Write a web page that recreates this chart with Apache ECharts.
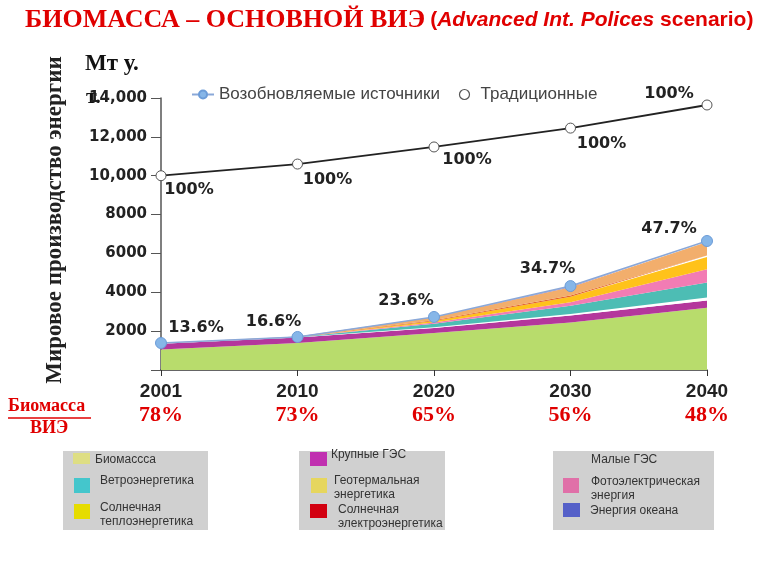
<!DOCTYPE html>
<html><head><meta charset="utf-8">
<script src="https://cdn.jsdelivr.net/npm/echarts@6/dist/echarts.min.js"></script>
<style>html,body{margin:0;padding:0;background:#fff}#c{width:768px;height:576px}</style>
</head><body><div id="c"></div>
<script>
const years = ['2001','2010','2020','2030','2040'];
const biomassShare = ['78%','73%','65%','56%','48%'];
const traditional = [10000, 10600, 11480, 12450, 13640];
const traditionalPct = ['100%','100%','100%','100%','100%'];
const renewable = [1390, 1700, 2730, 4320, 6640];
const renewablePct = ['13.6%','16.6%','23.6%','34.7%','47.7%'];
const biomass = [1060, 1390, 1900, 2450, 3200];
const largeHydro = [290, 280, 260, 350, 380];
const smallHydro = [10, 10, 40, 80, 150];
const wind = [10, 15, 180, 430, 780];
const photovoltaic = [2, 3, 60, 180, 680];
const solarThermal = [5, 5, 80, 280, 620];
const solarElectric = [2, 3, 40, 70, 80];
const geothermal = [8, 10, 150, 420, 700];
const ocean = [3, 4, 20, 40, 50];

const chart = echarts.init(document.getElementById('c'));
const trOffsets = [[28,-4],[30,-3],[33,-6],[31,-3],[-38,7]];
const trPos = ['bottom','bottom','bottom','bottom','top'];
const reOffsets = [[35,4],[-24,4],[-28,3],[-23,2],[-38,7]];

function area(name, data, color) {
  return { name, type:'line', stack:'r', data, symbol:'none', showSymbol:false,
    lineStyle:{width:0}, areaStyle:{color, opacity:1}, itemStyle:{color}, silent:true, z:1 };
}
const pctLabelStyle = {fontFamily:'DejaVu Sans', fontWeight:'bold', fontSize:16, color:'#222'};

chart.setOption({
  animation:false,
  backgroundColor:'#fff',
  title:{
    left:20, top:2,
    text:'{a|БИОМАССА – ОСНОВНОЙ ВИЭ} {b|(}{c|Advanced Int. Polices}{b| scenario)}',
    textStyle:{rich:{
      a:{fontFamily:'Liberation Serif', fontWeight:'bold', fontSize:26, color:'#e00000'},
      b:{fontFamily:'Liberation Sans', fontWeight:'bold', fontSize:21, color:'#e00000'},
      c:{fontFamily:'Liberation Sans', fontWeight:'bold', fontStyle:'italic', fontSize:21, color:'#e00000'}
    }}
  },
  legend:{
    data:['Возобновляемые источники', {name:'Традиционные', icon:'circle', itemStyle:{color:'#ffffff', borderColor:'#555555', borderWidth:1.2}}],
    left:186, top:81, itemGap:19, itemWidth:22, itemHeight:10,
    textStyle:{fontFamily:'Liberation Sans', fontSize:17, color:'#444'}
  },
  grid:{left:161, right:61, top:98, bottom:206},
  xAxis:{
    type:'category', data:years, boundaryGap:false,
    axisLine:{lineStyle:{color:'#333', width:1.5}},
    axisTick:{alignWithLabel:true, length:6, lineStyle:{color:'#333'}},
    axisLabel:{
      margin:11,
      formatter:(v,i)=>'{y|'+v+'}\n{p|'+biomassShare[i]+'}',
      rich:{
        y:{fontFamily:'Liberation Sans', fontWeight:'bold', fontSize:19, color:'#222', lineHeight:22},
        p:{fontFamily:'Liberation Serif', fontWeight:'bold', fontSize:22, color:'#e00000', lineHeight:24}
      }
    }
  },
  yAxis:{
    type:'value', min:0, max:14000, interval:2000,
    splitLine:{show:false},
    axisLine:{show:true, lineStyle:{color:'#555', width:1.5}},
    axisTick:{show:true, length:10, lineStyle:{color:'#555'}},
    axisLabel:{
      margin:14, fontFamily:'DejaVu Sans', fontWeight:'bold', fontSize:15, color:'#222',
      formatter:v=> v===0 ? '' : (v>=10000 ? v.toLocaleString('en-US') : String(v))
    }
  },
  series:[
    area('Биомасса', biomass, '#b8dc6c'),
    area('Крупные ГЭС', largeHydro, '#b4379c'),
    area('Малые ГЭС', smallHydro, '#ffffff'),
    area('Ветроэнергетика', wind, '#4dbdb4'),
    area('Фотоэлектрическая энергия', photovoltaic, '#f27cb4'),
    area('Солнечная теплоэнергетика', solarThermal, '#ffc21a'),
    area('Солнечная электроэнергетика', solarElectric, '#e2622a'),
    area('Геотермальная энергетика', geothermal, '#f2ae6c'),
    area('Энергия океана', ocean, '#9a86c8'),
    { name:'Возобновляемые источники', type:'line', z:5,
      data: renewable.map((v,i)=>({value:v, label:{offset:reOffsets[i]}})),
      symbol:'circle', symbolSize:11,
      lineStyle:{color:'#8aa8d8', width:1.5},
      itemStyle:{color:'#86b6e8', borderColor:'#6c9cd8', borderWidth:1},
      label:{show:true, position:'top', formatter:p=>renewablePct[p.dataIndex], ...pctLabelStyle}
    },
    { name:'Традиционные', type:'line', z:5,
      data: traditional.map((v,i)=>({value:v, label:{position:trPos[i], offset:trOffsets[i]}})),
      symbol:'circle', symbolSize:10,
      lineStyle:{color:'#222', width:1.8},
      itemStyle:{color:'#fff', borderColor:'#555', borderWidth:1},
      label:{show:true, formatter:p=>traditionalPct[p.dataIndex], ...pctLabelStyle}
    }
  ],
  graphic:[
    {type:'text', left:85, top:53, style:{text:'Мт у.', font:'bold 23px "Liberation Serif"', fill:'#111'}},
    {type:'text', left:86, top:86, style:{text:'т.', font:'bold 22px "Liberation Serif"', fill:'#111'}},
    {type:'text', x:55, y:220, rotation:Math.PI/2, style:{text:'Мировое производство энергии', font:'bold 23px "Liberation Serif"', fill:'#222', align:'center', verticalAlign:'middle'}},
    {type:'text', left:8, top:397, style:{text:'Биомасса', font:'bold 18px "Liberation Serif"', fill:'#e00000'}},
    {type:'line', shape:{x1:8, y1:418, x2:91, y2:418}, style:{stroke:'#e00000', lineWidth:1.5}},
    {type:'text', left:30, top:419, style:{text:'ВИЭ', font:'bold 18px "Liberation Serif"', fill:'#e00000'}},
    {type:'rect', shape:{x:63, y:451, width:145, height:79}, style:{fill:'#d0d0d0'}},
    {type:'rect', shape:{x:73, y:453, width:17, height:11}, style:{fill:'#dede84'}},
    {type:'text', left:95, top:454, style:{text:'Биомассса', font:'12px "Liberation Sans"', fill:'#333'}},
    {type:'rect', shape:{x:74, y:478, width:16, height:15}, style:{fill:'#44c6cc'}},
    {type:'text', left:100, top:475, style:{text:'Ветроэнергетика', font:'12px "Liberation Sans"', fill:'#333'}},
    {type:'rect', shape:{x:74, y:504, width:16, height:15}, style:{fill:'#e6dc00'}},
    {type:'text', left:100, top:501, style:{text:'Солнечная\nтеплоэнергетика', font:'12px "Liberation Sans"', lineHeight:14, fill:'#333'}},
    {type:'rect', shape:{x:299, y:451, width:146, height:79}, style:{fill:'#d0d0d0'}},
    {type:'rect', shape:{x:310, y:452, width:17, height:14}, style:{fill:'#c030b0'}},
    {type:'text', left:331, top:449, style:{text:'Крупные ГЭС', font:'12px "Liberation Sans"', fill:'#333'}},
    {type:'rect', shape:{x:311, y:478, width:16, height:15}, style:{fill:'#e6d65e'}},
    {type:'text', left:334, top:474, style:{text:'Геотермальная\nэнергетика', font:'12px "Liberation Sans"', lineHeight:14, fill:'#333'}},
    {type:'rect', shape:{x:310, y:504, width:17, height:14}, style:{fill:'#d20010'}},
    {type:'text', left:338, top:503, style:{text:'Солнечная\nэлектроэнергетика', font:'12px "Liberation Sans"', lineHeight:14, fill:'#333'}},
    {type:'rect', shape:{x:553, y:451, width:161, height:79}, style:{fill:'#d0d0d0'}},
    {type:'text', left:591, top:454, style:{text:'Малые ГЭС', font:'12px "Liberation Sans"', fill:'#333'}},
    {type:'rect', shape:{x:563, y:478, width:16, height:15}, style:{fill:'#e070a8'}},
    {type:'text', left:591, top:475, style:{text:'Фотоэлектрическая\nэнергия', font:'12px "Liberation Sans"', lineHeight:14, fill:'#333'}},
    {type:'rect', shape:{x:563, y:503, width:17, height:14}, style:{fill:'#5560c8'}},
    {type:'text', left:590, top:505, style:{text:'Энергия океана', font:'12px "Liberation Sans"', fill:'#333'}}
  ]
});
</script>
</body></html>
